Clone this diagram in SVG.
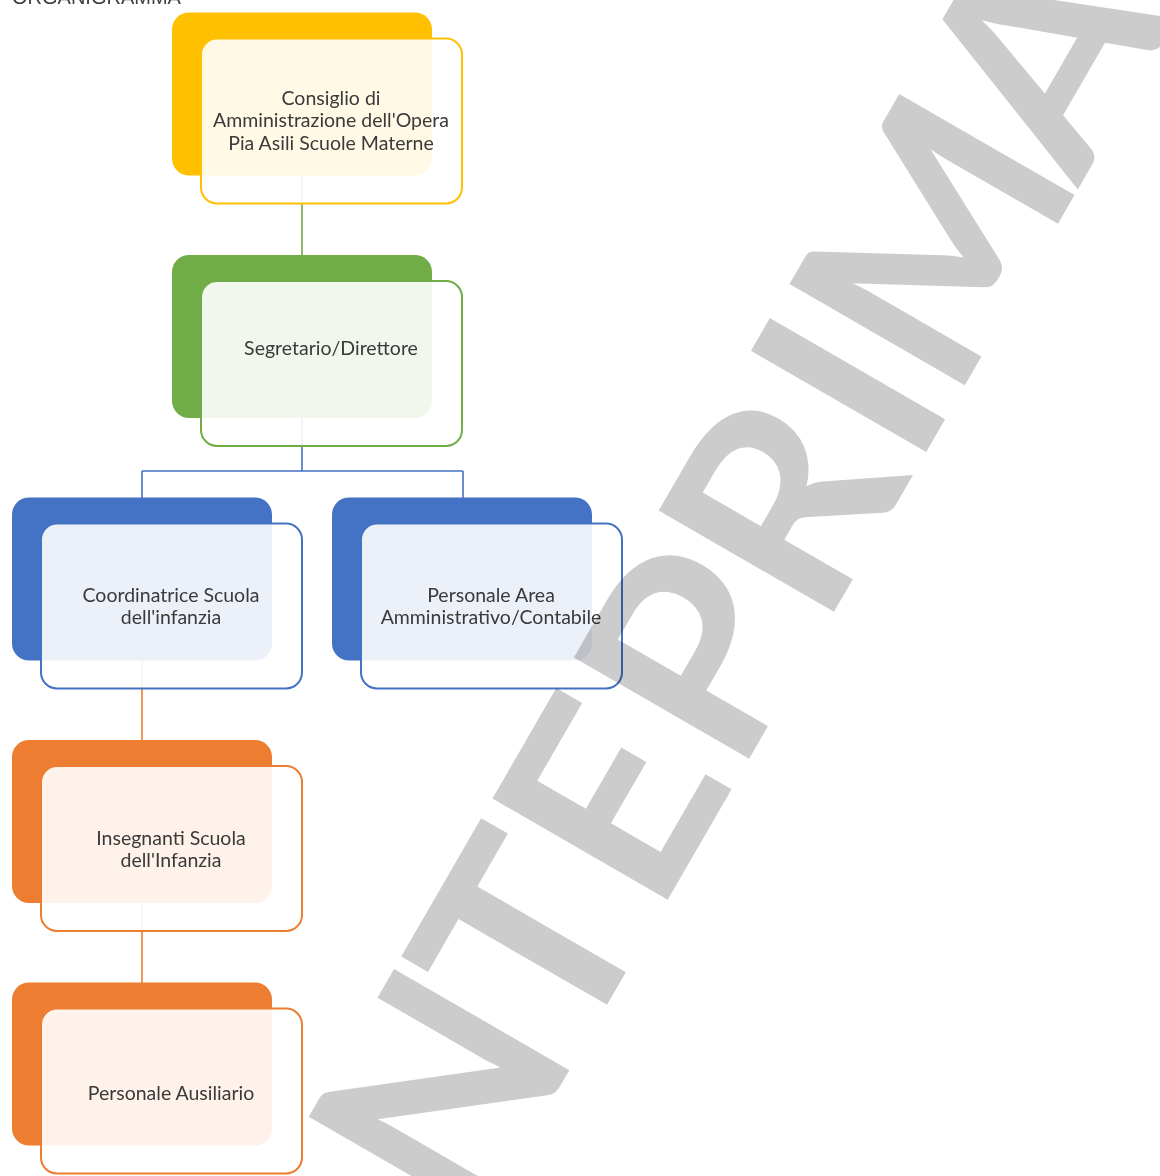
<svg xmlns="http://www.w3.org/2000/svg" width="1160" height="1176" viewBox="0 0 1160 1176">
<style>
.front{fill:#ffffff;fill-opacity:0.9;stroke-width:2}
.lbl{font-family:Lato,"Liberation Sans",sans-serif;font-size:19.5px;fill:#3a3a3a;text-anchor:middle}
.conn{fill:none;stroke-width:1.6}
.y{fill:#FFC000}.ys{stroke:#FFC000}
.g{fill:#70AD47}.gs{stroke:#70AD47}
.b{fill:#4472C4}.bs{stroke:#4472C4}
.o{fill:#ED7D31}.os{stroke:#ED7D31}
</style>
<rect x="0" y="0" width="1160" height="1176" fill="#ffffff"/>
<text x="12" y="4" font-family="Liberation Sans, sans-serif" font-size="20" fill="#404040">ORGANIGRAMMA</text>
<g id="connectors">
<path class="conn gs" d="M302 176 V255"/>
<path class="conn bs" d="M302 418 V471 M142 471 H463 M142 471 V498 M463 471 V498"/>
<path class="conn os" d="M142 661 V741"/>
<path class="conn os" d="M142 904 V983"/>
</g>
<g id="node-consiglio">
<rect class="y" x="172" y="12.5" width="260" height="163" rx="17"/>
<rect class="front ys" x="201" y="38.5" width="261" height="165" rx="16"/>
<text class="lbl" x="331" y="104.5">Consiglio di</text>
<text class="lbl" x="331" y="127">Amministrazione dell'Opera</text>
<text class="lbl" x="331" y="149.5">Pia Asili Scuole Materne</text>
</g>
<g id="node-segretario">
<rect class="g" x="172" y="255" width="260" height="163" rx="17"/>
<rect class="front gs" x="201" y="281" width="261" height="165" rx="16"/>
<text class="lbl" x="331" y="354.5">Segretario/Direttore</text>
</g>
<g id="node-coordinatrice">
<rect class="b" x="12" y="497.5" width="260" height="163" rx="17"/>
<rect class="front bs" x="41" y="523.5" width="261" height="165" rx="16"/>
<text class="lbl" x="171" y="601.5">Coordinatrice Scuola</text>
<text class="lbl" x="171" y="624">dell'infanzia</text>
</g>
<g id="node-personale-area">
<rect class="b" x="332" y="497.5" width="260" height="163" rx="17"/>
<rect class="front bs" x="361" y="523.5" width="261" height="165" rx="16"/>
<text class="lbl" x="491" y="601.5">Personale Area</text>
<text class="lbl" x="491" y="624">Amministrativo/Contabile</text>
</g>
<g id="node-insegnanti">
<rect class="o" x="12" y="740" width="260" height="163" rx="17"/>
<rect class="front os" x="41" y="766" width="261" height="165" rx="16"/>
<text class="lbl" x="171" y="844.5">Insegnanti Scuola</text>
<text class="lbl" x="171" y="866.5">dell'Infanzia</text>
</g>
<g id="node-ausiliario">
<rect class="o" x="12" y="982.5" width="260" height="163" rx="17"/>
<rect class="front os" x="41" y="1008.5" width="261" height="165" rx="16"/>
<text class="lbl" x="171" y="1099.5">Personale Ausiliario</text>
</g>
<g id="watermark" style="mix-blend-mode:multiply" transform="translate(945.7,418.3) rotate(-60)">
<text x="-1027 -838 -658.5 -498 -329 -156 -20 148 363" y="0" text-anchor="middle" font-family="Lato, 'Liberation Sans', sans-serif" font-weight="700" font-size="280" fill="#cccccc">ANTEPRIMA</text>
</g>
</svg>
